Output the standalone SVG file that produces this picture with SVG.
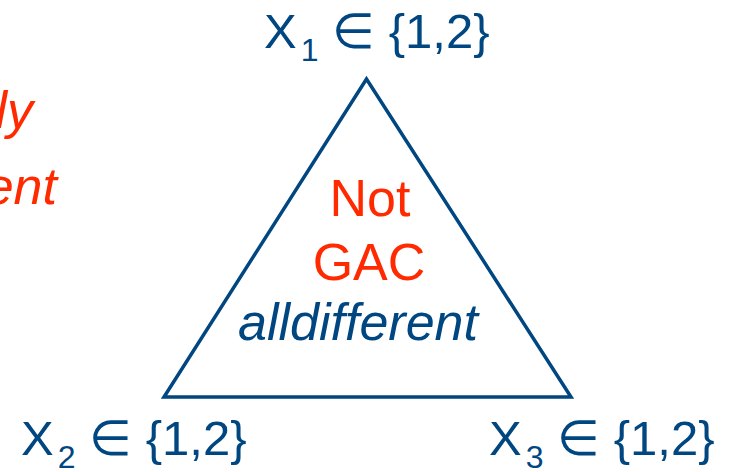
<svg xmlns="http://www.w3.org/2000/svg" width="738" height="472" viewBox="0 0 738 472">
<style>
.var{font-family:"Liberation Sans",Arial,sans-serif;font-size:49px;fill:#004680}
.sub{font-size:32px}
.red{font-family:"Liberation Sans",Arial,sans-serif;font-size:52px;fill:#ff2a00}
.blue{font-family:"Liberation Sans",Arial,sans-serif;font-size:52px;fill:#004680}
.edge{fill:none;stroke:#004680;stroke-width:3.5;stroke-linejoin:miter}
</style>
<rect width="738" height="472" fill="#ffffff"/>
<g id="side-note">
<text class="red" x="33" y="128" text-anchor="end" font-style="italic">ly</text>
<text class="red" x="57" y="204" text-anchor="end" font-style="italic">ent</text>
</g>
<g id="connectors">
<polygon class="edge" points="366.5,79 164,397 571,397"/>
</g>
<g id="constraint">
<text class="red" x="370" y="216" text-anchor="middle">Not</text>
<text class="red" x="369" y="280" text-anchor="middle">GAC</text>
<text class="blue" x="358" y="340" text-anchor="middle" font-style="italic">alldifferent</text>
</g>
<g id="X1">
<text class="var" x="264" y="48">X<tspan class="sub" dx="4" dy="13">1</tspan><tspan dx="0" dy="-13"> ∈ {1,2}</tspan></text>
</g>
<g id="X2">
<text class="var" x="21" y="455">X<tspan class="sub" dx="4" dy="13">2</tspan><tspan dy="-13"> ∈ {1,2}</tspan></text>
</g>
<g id="X3">
<text class="var" x="489" y="455">X<tspan class="sub" dx="4" dy="13">3</tspan><tspan dy="-13"> ∈ {1,2}</tspan></text>
</g>
</svg>
